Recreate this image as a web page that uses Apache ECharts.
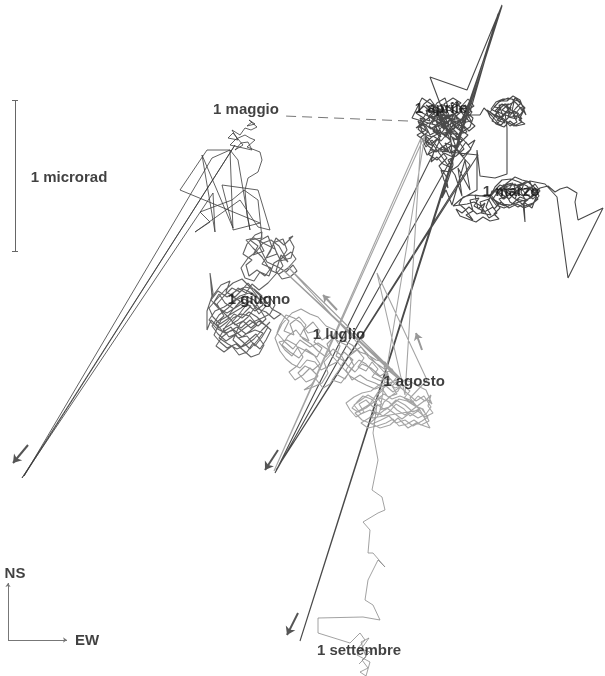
<!DOCTYPE html>
<html>
<head>
<meta charset="utf-8">
<script src="https://cdn.jsdelivr.net/npm/echarts@6/dist/echarts.min.js"></script>
<style>html,body{margin:0;padding:0;background:#fff}#c{width:605px;height:676px}</style>
</head>
<body>
<div id="c"></div>
<script>
// Tilt trajectory (EW, NS) in plot units
const marzo = [
[512,195],[519,189],[515,199],[526,201],[521,192],[524,183],[514,186],[518,194],[508,191],[513,183],[503,185],[507,196],[499,199],[505,206],[497,203],[491,195],[495,187],[502,180],[511,179],[519,182],[527,186],[533,192],[538,199],[531,205],[524,208],[517,204],[509,208],[501,202],[494,209],[489,200],[492,191],[500,193],[509,199],[516,192],[523,196],[529,190],[535,184],[540,191],[533,199],[526,194],[520,187],[512,189],[504,190],[510,202],[518,207],[525,203],[532,208],[536,197],[530,182],[522,180],[515,177],[507,183],[497,192],[503,199],[511,193],
[504,199],[498,193],[505,187],[515,184],[521,190],[530,187],[537,192],[531,198],[522,201],[513,204],[504,208],[496,205],[490,197],[497,189],[507,192],[514,198],[525,206],[533,203],[539,196],[535,188],[527,181],[518,186],[509,184],[500,188],[493,199],[501,204],[511,205],[520,197],[528,200],
[524,202],[525,222],[523,204],[540,188],[548,186],[555,192],[560,189],[567,187],[577,193],[575,202],[578,220],[603,208],[568,278],[557,197],[545,184],[530,181],[512,190],[500,185],[488,197],[475,195],
[478,209],[485,203],[481,213],[491,215],[486,207],[489,199],[480,202],[483,211],[474,206],[479,198],[470,200],[473,211],[466,215],[473,220],[465,209],[459,204],[463,197],[471,195],[480,196],[488,195],[495,201],[500,208],[494,214],[499,219],[490,221],[483,217],[476,222],[468,219],[460,216],[456,209],[462,213],[469,207],[477,214],[486,211],[493,207],[497,213],[489,218],[481,206],[474,202],[467,204],[453,206],[461,199],
[477,190],[477,150],[480,176],[495,178],[507,174],[507,128],
[505,113],[511,107],[508,117],[517,119],[512,111],[514,102],[506,106],[510,114],[502,110],[509,104],[499,105],[503,116],[497,120],[505,123],[498,113],[491,109],[496,102],[503,99],[512,99],[518,105],[523,112],[519,120],[525,124],[516,126],[510,121],[504,127],[496,124],[490,117],[487,110],[493,114],[500,118],[507,111],[515,114],[521,107],[526,115],[520,100],[513,96],[507,101],[500,101],[494,107],[501,108],[496,115],[504,119],[510,126],[517,122],[513,115],[522,119],[518,113],[511,110],[505,104],[498,110],[492,121],[501,125],[508,118],[516,108],[521,103],[515,98],
[509,109],[502,104],[495,111],[503,114],[511,117],[520,115],[525,108],[518,101],[508,98],[499,102],[490,112],[497,118],[506,121],[514,126],[522,122],[516,112],[506,113],[498,123],[492,116],[484,108],[480,115]
];
const aprile = [
[480,115],[470,115],[442,128],[449,121],[446,131],[458,134],[450,126],[453,115],[442,120],[448,129],[443,125],[452,118],[440,119],[444,130],[447,121],[436,127],[441,137],[433,131],[438,122],[429,116],[435,110],[446,113],[440,104],[451,108],[457,101],[462,111],[455,117],[466,122],[459,129],[468,135],[461,142],[452,137],[456,147],[445,143],[449,152],[438,148],[432,140],[426,147],[421,137],[428,132],[419,126],[425,119],[416,113],[424,106],[431,112],[437,103],[445,98],[448,107],[458,113],[465,105],[472,112],[467,119],[475,126],[469,131],[463,125],[457,139],[464,149],[456,156],[448,160],[452,168],[443,164],[437,157],[431,162],[434,151],[427,155],[423,145],[433,136],[441,141],[447,134],[455,128],[449,117],[439,113],[433,120],[444,124],[437,133],[429,126],[434,117],[441,109],[452,111],[460,120],[454,126],[462,132],[470,127],[473,118],[466,112],[459,106],[451,103],[455,121],[446,137],[439,130],[430,135],[426,127],[418,121],[422,131],[430,145],[437,139],[445,150],[452,145],[459,152],[466,142],[471,149],[464,158],[458,166],[449,172],[441,170],[444,180],[448,188],[446,176],
[439,166],[447,158],[440,149],[451,141],[443,133],[455,131],[447,122],[458,118],[450,110],[461,103],[453,98],[444,104],[449,115],[438,116],[444,127],[432,124],[437,113],[426,110],[430,121],[420,118],[426,130],[417,135],[425,141],[433,146],[428,154],[437,160],[444,153],[453,157],[449,147],[460,144],[455,135],[467,132],[461,123],[471,121],[466,111],[474,106],[468,99],[459,109],[465,117],[457,124],[451,119],[445,112],[436,107],[430,99],[424,104],[419,111],[428,116],[436,121],[441,132],[432,137],[424,134],[427,145],[436,152],[443,146],[450,153],[457,149],[463,156],[470,150],[475,140],[468,145],[461,137],[454,140],[446,129],[439,123],[431,129],[423,123],[418,129],[429,139],
[455,175],[462,196],[458,168],[470,190],[465,160],[452,205],[446,190],[442,198],[453,165],[450,130],
[430,77],[467,90],[502,5],[470,100],[458,128],[440,110],[422,98],[412,118],[435,125],[440,140],[275,473],[462,140],[445,128],[430,150],[478,155],[276,470],[470,165],[452,145],[438,108],[445,122],[428,116],[465,120],[444,135],[432,128],[458,112],[448,116],[416,128],[436,112],[452,135],[426,105],[461,126],[502,6],[300,641],[498,14],[470,112],[448,130],[433,104],[419,124]
];
const lacuna = [[408,121],[284,116]];
const maggio = [
[252,122],[247,126],[255,124],[249,120],[257,127],[251,130],[245,128],[240,135],[232,130],[238,140],[228,138],[233,133],[243,145],[235,150],[241,143],[248,142],[252,150],[230,145],[236,139],[245,135],[250,138],[255,140],[247,147],[260,152],[262,160],[258,172],[248,178],[245,190],[247,215],[250,230],[238,160],
[230,150],[207,150],[180,190],[260,223],[233,230],[230,150],[212,158],[24,476],[235,145],[22,478],[213,193],[215,232],[202,155],[233,228],[222,185],[258,190],[270,230],[258,227],[240,200],[195,232],[210,222],[200,212],[232,200],[244,190],[258,200],[262,238],[250,240]
];
const giugno = [
[250,240],[258,246],[253,255],[264,251],[259,241],[268,236],[272,247],[266,258],[277,254],[273,243],[283,239],[287,250],[280,261],[291,258],[294,247],[289,238],[293,236],[284,245],[276,238],[270,252],[262,264],[271,268],[265,276],[257,270],[249,276],[246,265],[252,260],[243,254],[247,244],[255,235],[262,232],[260,248],[267,262],[278,267],[286,272],[293,265],[297,271],[290,277],[282,279],[276,271],[281,255],[288,262],[279,246],[271,240],[263,243],[256,252],[248,258],[241,268],[245,278],[254,281],[260,272],[269,276],[274,263],[284,257],[291,252],[296,259],[288,268],[279,274],[270,270],[262,257],[253,248],[246,240],[254,238],[265,244],[275,249],[283,266],[268,283],
[259,290],[252,284],[246,293],[238,288],[231,296],[240,301],[234,309],[225,303],[219,294],[214,302],[222,311],[229,318],[220,324],[213,317],[209,308],[216,300],[225,290],[233,283],[242,279],[250,287],[257,296],[263,305],[255,311],[247,304],[240,313],[232,322],[241,328],[250,320],[258,326],[266,319],[261,311],[254,300],[245,296],[236,300],[228,308],[219,315],[212,326],[218,334],[226,341],[235,335],[243,342],[250,349],[257,341],[263,333],[255,330],[246,334],[237,327],[230,331],[222,337],[216,346],[224,352],[232,346],[239,355],[247,352],[253,343],[260,349],[266,340],[271,330],[264,324],[257,317],[249,312],[242,318],[234,314],[227,322],[219,328],[211,320],[207,330],[207,311],[213,293],[210,273],[212,297],[221,285],[230,281],[226,292],[235,297],[243,289],[252,293],[260,300],[269,296],[275,305],[270,314],[262,318],[253,322],[246,327],[238,333],[229,337],[223,329],[230,325],[238,320],[245,312],[251,306],[243,303],[235,308],[227,313],[218,308],[211,300],[218,291],[227,297],[236,291],[245,287],[254,289],[262,296],[256,306],[248,317],[240,324],[233,340],[241,347],[249,340],[256,334],[264,345],[259,354],[251,357],[243,350],[236,344],[227,348],[220,342],[214,335],[221,320],[231,314],[241,308],[250,301],[258,309],[266,312],[274,319],[281,314],
[272,309],[265,300],[256,292],[248,283],[240,292],[232,288],[224,296],[217,304],[224,316],[216,323],[223,332],[231,327],[238,338],[247,336],[255,346],[262,337],[268,327],[259,321],[251,328],[243,321],[235,325],[228,316],[236,306],[244,299],[252,303],[259,314],[266,306],[258,298],[249,293],[240,296],[232,302],[224,307],[215,311],[209,320],[216,328],[225,333],[234,330],[242,337],[250,331],[257,325],[250,316],[241,314],[233,318],[226,326],[219,338],[228,344],[237,349],[246,345],[254,339],[262,330],[270,322]
];
const luglio = [
[281,314],[289,321],[284,331],[294,335],[290,324],[299,317],[306,325],[300,336],[309,341],[304,330],[313,322],[320,331],[314,342],[322,348],[317,357],[308,352],[298,347],[292,356],[285,350],[279,342],[287,340],[296,345],[303,357],[297,366],[289,372],[295,380],[303,375],[310,368],[318,376],[311,385],[304,390],[313,387],[322,383],[328,373],[324,362],[331,354],[327,344],[334,337],[340,346],[336,356],[344,361],[339,370],[332,380],[341,383],[348,374],[354,366],[349,356],[357,350],[364,358],[358,367],[366,371],[372,362],[378,369],[372,377],[381,381],[388,374],[384,366],[392,369],[397,377],[391,384],[383,387],[375,383],[367,380],[360,375],[352,380],[346,370],[353,360],[344,352],[337,362],[329,366],[321,370],[315,362],[307,360],[300,368],[292,364],[286,359],[280,351],[275,338],[282,324],[292,313],[301,309],[310,314],[318,317],[326,326],[335,330],[343,340],[352,345],[360,352],[368,355],[376,360],[385,362],[393,371],[399,379],
[389,371],[380,376],[371,368],[362,364],[355,372],[347,365],[341,355],[333,349],[326,357],[318,351],[311,344],[303,339],[296,330],[288,336],[282,345],[290,352],[299,358],[306,349],[314,355],[320,364],[313,370],[305,366],[298,373],[306,382],[315,378],[323,388],[330,384],[336,374],[345,379],[351,369],[359,360],[366,364],[374,373],[382,378],[390,380],[386,370],[377,364],[369,358],[361,347],[353,352],[346,345],[338,341],[330,335],[322,340],[316,331],[308,333],[301,323],[294,318],[286,315],[280,325],[277,333],[285,342],[293,349],[300,340],[310,347],[318,343],[327,349],[334,358],[342,367],[350,376],[358,381],[366,385],[375,389],[385,385],[394,381],[399,379],
[283,270],[400,378],[288,267],[396,385],[399,379]
];
const agosto = [
[399,379],[392,386],[397,394],[388,397],[383,390],[376,396],[382,404],[373,407],[366,400],[359,404],[364,412],[356,417],[350,410],[346,403],[354,397],[362,393],[371,391],[379,385],[387,382],[395,388],[403,385],[410,391],[404,398],[412,403],[418,396],[425,401],[431,395],[428,406],[433,413],[425,417],[418,411],[410,416],[404,409],[396,404],[390,411],[383,416],[376,412],[369,418],[361,423],[368,428],[377,426],[386,423],[393,419],[399,426],[407,424],[414,420],[421,425],[429,421],[423,409],[415,406],[407,401],[399,399],[392,405],[385,410],[378,405],[371,399],[363,396],[357,402],[352,408],[358,412],[366,408],[374,402],[381,398],[389,402],[397,410],[405,415],[412,410],[420,404],[427,399],[432,404],[426,390],[418,386],[411,382],[404,380],[398,391],[391,396],[384,402],[377,417],[370,423],[380,428],[390,425],[398,418],[408,428],[416,423],[430,428],[420,410],[410,400],[400,396],
[392,399],[384,394],[376,400],[368,395],[361,400],[354,405],[361,414],[370,410],[378,415],[387,408],[395,414],[402,419],[410,413],[418,418],[426,414],[431,407],[424,396],[416,401],[408,394],[400,387],[393,392],[386,386],[378,392],[370,404],[362,409],[355,413],[362,420],[372,424],[381,420],[389,416],[396,423],[405,420],[413,426],[422,421],[428,417],[421,408],[413,412],[405,405],[396,400],[389,407],[380,410],
[425,135],[274,471],[421,138],[405,395],[377,273],[427,380],[410,398],[420,410],[372,418]
];
const settembre = [
[372,418],[377,405],[373,433],[378,460],[372,490],[382,497],[385,510],[378,513],[363,522],[370,530],[368,553],[373,553],[385,567],[378,560],[368,580],[365,600],[373,605],[380,620],[363,617],[318,618],[318,633],[350,643],[360,633],[365,640],[358,648],[370,652],[362,660],[368,668],[360,672],[366,676],[370,662],[357,655],[364,645],[369,638],[361,642],[366,657],[359,664]
];
const frecce = [[[28,445],[13,463]],[[278,450],[265,470]],[[298,613],[287,635]]];
const frecceChiare = [[[337,310],[323,295]],[[422,350],[416,333]]];
const etichette = ['1 marzo','1 aprile','1 maggio','1 giugno','1 luglio','1 agosto','1 settembre'];
const etichetteXY = [[511,192],[441,109],[246,110],[259,300],[339,335],[414,382],[359,651]];
const scalaTesto = '1 microrad';
const scala = [[15,100],[15,251]];

const chart = echarts.init(document.getElementById('c'), null, {renderer:'canvas'});
function traccia(name, data, color, width){
  return {type:'line', name, data, showSymbol:false, symbol:'none', silent:true, clip:false,
    lineStyle:{color, width}, z:2, animation:false};
}
const fontLab = {show:true, position:'inside', formatter:p=>p.name, color:'#111',
  fontFamily:'Liberation Sans, Arial, sans-serif', fontWeight:'bold', fontSize:15};
const series = [
  traccia('marzo', marzo, '#484848', 1.1),
  traccia('aprile', aprile, '#4a4a4a', 1.1),
  traccia('maggio', maggio, '#3a3a3a', 0.8),
  traccia('giugno', giugno, '#626262', 1.1),
  traccia('luglio', luglio, '#9d9d9d', 1.1),
  traccia('agosto', agosto, '#a5a5a5', 1.1),
  traccia('settembre', settembre, '#8a8a8a', 0.8),
  {type:'line', data:lacuna, showSymbol:false, symbol:'none', silent:true, lineStyle:{color:'#777', width:1, type:[10,6]}, z:2},
  {type:'lines', coordinateSystem:'cartesian2d', silent:true, z:5,
    symbol:['none','arrow'], symbolSize:8,
    lineStyle:{color:'#555', width:2, opacity:1},
    data: frecce.map(c=>({coords:c}))},
  {type:'lines', coordinateSystem:'cartesian2d', silent:true, z:5,
    symbol:['none','arrow'], symbolSize:7,
    lineStyle:{color:'#999', width:2, opacity:1},
    data: frecceChiare.map(c=>({coords:c}))},
  {type:'lines', coordinateSystem:'cartesian2d', silent:true, z:5, symbol:['none','none'],
    lineStyle:{color:'#666', width:1, opacity:1},
    data:[{coords:scala},{coords:[[scala[0][0]-3,scala[0][1]],[scala[0][0]+3,scala[0][1]]]},{coords:[[scala[1][0]-3,scala[1][1]],[scala[1][0]+3,scala[1][1]]]}]},
  {type:'lines', coordinateSystem:'cartesian2d', silent:true, z:5, symbol:['none','arrow'], symbolSize:4,
    lineStyle:{color:'#777', width:1, opacity:1},
    data:[{coords:[[8,640],[8,583]]},{coords:[[8,640],[67,640]]}]},
  {type:'scatter', silent:true, z:10, zlevel:1, symbolSize:0, label:fontLab,
    data: etichette.map((t,i)=>({value:etichetteXY[i], name:t})).concat([
      {value:[69,178], name:scalaTesto},{value:[15,574], name:'NS'},{value:[87,641], name:'EW'}])}
];
chart.setOption({animation:false, backgroundColor:'#fff',
  grid:{left:0,right:0,top:0,bottom:0},
  xAxis:{type:'value', min:0, max:605, show:false},
  yAxis:{type:'value', min:0, max:676, inverse:true, show:false},
  series});
</script>
</body>
</html>
